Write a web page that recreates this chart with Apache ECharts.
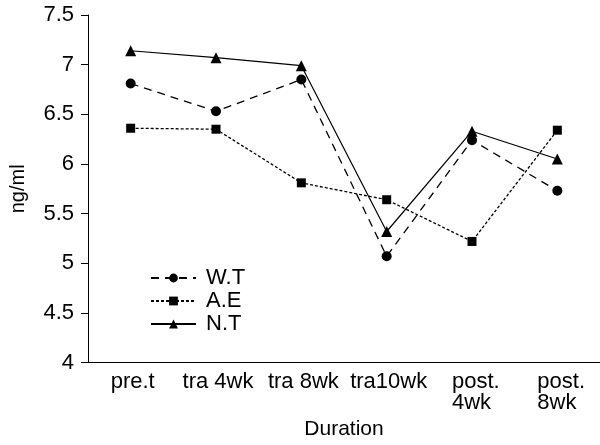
<!DOCTYPE html>
<html><head><meta charset="utf-8">
<script src="https://cdn.jsdelivr.net/npm/echarts@6/dist/echarts.min.js"></script>
<style>html,body{margin:0;padding:0;background:#fff}#c{width:600px;height:445px}</style>
</head><body><div id="c"></div>
<script>
const categories = ['pre.t', 'tra 4wk', 'tra 8wk', 'tra10wk', 'post.\n4wk', 'post.\n8wk'];
const wt = [6.81, 6.53, 6.85, 5.07, 6.24, 5.73];
const ae = [6.36, 6.35, 5.81, 5.64, 5.22, 6.34];
const nt = [7.14, 7.07, 6.99, 5.32, 6.33, 6.05];

const chart = echarts.init(document.getElementById('c'));
const font = 'Liberation Sans';
chart.setOption({
  animation: false,
  grid: {left: 87, top: 15, right: -2, bottom: 79, containLabel: false},
  legend: {
    left: 145, top: 262, orient: 'vertical', itemWidth: 45, itemHeight: 11, itemGap: 1,
    textStyle: {fontFamily: font, fontSize: 22, color: '#000', padding: [0, 0, 0, 5]},
    data: ['W.T', 'A.E', 'N.T']
  },
  xAxis: {
    type: 'category', data: categories, boundaryGap: true,
    name: 'Duration', nameLocation: 'middle', nameGap: 56,
    nameTextStyle: {fontFamily: font, fontSize: 21, color: '#000'},
    axisLine: {lineStyle: {color: '#000', width: 1}},
    axisTick: {alignWithLabel: false, length: 7, lineStyle: {color: '#000'}},
    axisLabel: {
      fontFamily: font, fontSize: 22, color: '#000', margin: 9, lineHeight: 21, interval: 0,
      formatter: function (v) {
        if (v.indexOf('\n') >= 0) {
          return v.split('\n').map(function (s) { return '{m|' + s + '}'; }).join('\n');
        }
        return '{s|' + v + '}';
      },
      rich: {
        m: {fontFamily: font, fontSize: 22, color: '#000', width: 46, align: 'left', lineHeight: 21, padding: [0, 0, 0, 6]},
        s: {fontFamily: font, fontSize: 22, color: '#000', lineHeight: 21, padding: [0, 0, 0, 4]}
      }
    }
  },
  yAxis: {
    type: 'value', min: 4, max: 7.5, interval: 0.5,
    name: 'ng/ml', nameLocation: 'middle', nameGap: 60, nameRotate: 90,
    nameTextStyle: {fontFamily: font, fontSize: 20, color: '#000'},
    axisLine: {show: true, lineStyle: {color: '#000', width: 1}},
    axisTick: {show: true, length: 7, lineStyle: {color: '#000'}},
    splitLine: {show: false},
    axisLabel: {fontFamily: font, fontSize: 22, color: '#000', margin: 14}
  },
  series: [
    {name: 'W.T', type: 'line', data: wt, symbol: 'circle', symbolSize: 10,
     itemStyle: {color: '#000'}, lineStyle: {color: '#000', width: 1.3, type: [8, 6]}},
    {name: 'A.E', type: 'line', data: ae, symbol: 'rect', symbolSize: 9,
     itemStyle: {color: '#000'}, lineStyle: {color: '#000', width: 1.3, type: [3, 2]}},
    {name: 'N.T', type: 'line', data: nt, symbol: 'triangle', symbolSize: 11,
     itemStyle: {color: '#000'}, lineStyle: {color: '#000', width: 1.2, type: 'solid'}}
  ]
});
</script></body></html>
